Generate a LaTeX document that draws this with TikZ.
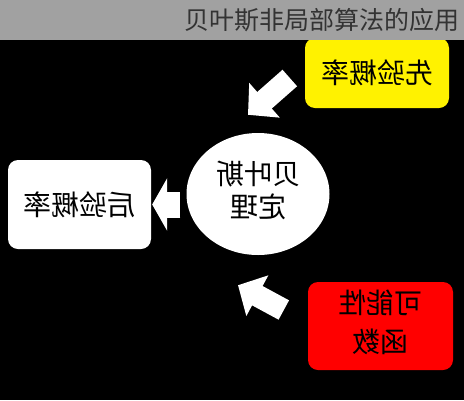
\documentclass[tikz,border=0pt]{standalone}
\usepackage{fontspec}
\setmainfont{Noto Sans CJK SC}
\usepackage{xcolor}
\usetikzlibrary{arrows.meta}
\usetikzlibrary{shapes.geometric}
\colorlet{bandgray}{black!37}
\colorlet{titlegray}{black!80}
\newcommand\mirror[1]{\reflectbox{#1}}
\newcommand\boxfont{\fontsize{28}{32}\selectfont}
\tikzstyle{card}=[rounded corners=10pt,inner sep=0pt,align=center,font=\boxfont]
\tikzstyle{fat} =[white,line width=26pt,-{Triangle[length=15pt,width=52pt]}]
\tikzstyle{fatd}=[white,line width=22pt,-{Triangle[length=22pt,width=45pt]}]

\begin{document}
\begin{tikzpicture}[x=1pt,y=-1pt]
	\useasboundingbox (0,0) rectangle (464,400);
	\fill[black] (0,0) rectangle (464,400);
	\node[card,fill=yellow,minimum width=144pt,minimum height=70pt] (prior) at (377,73) {\mirror{先验概率}};
	\fill[bandgray] (0,0) rectangle (464,40);
	\node[anchor=east,text=titlegray,font=\fontsize{25}{30}\selectfont] (title) at (463,20) {贝叶斯非局部算法的应用};
	\node[card,fill=white,minimum width=143pt,minimum height=89pt] (post) at (79.5,204.5) {\mirror{后验概率}};
	\node[ellipse,fill=white,inner sep=0pt,minimum width=143pt,minimum height=122pt,font=\boxfont] (bayes) at (258,194)
	  {\mirror{\begin{tabular}{@{}c@{}}贝叶斯\\定理\end{tabular}}};
	\node[card,fill=red,minimum width=145pt,minimum height=88pt] (like) at (380.5,326)
	  {\mirror{\begin{tabular}{@{}c@{}}可能性\\[6pt]函数\end{tabular}}};
	\draw[fat,shorten <=6pt,shorten >=1pt] (post.east -| bayes.west) -- (post.east);
	\draw[fatd] ([xshift=-15pt,yshift=-5pt]prior.west) -- ([xshift=-10pt,yshift=18pt]bayes.north);
	\draw[fatd] ([xshift=-24pt,yshift=16pt]like.west) -- ([xshift=-20pt,yshift=-30pt]bayes.south);
\end{tikzpicture}
\end{document}
